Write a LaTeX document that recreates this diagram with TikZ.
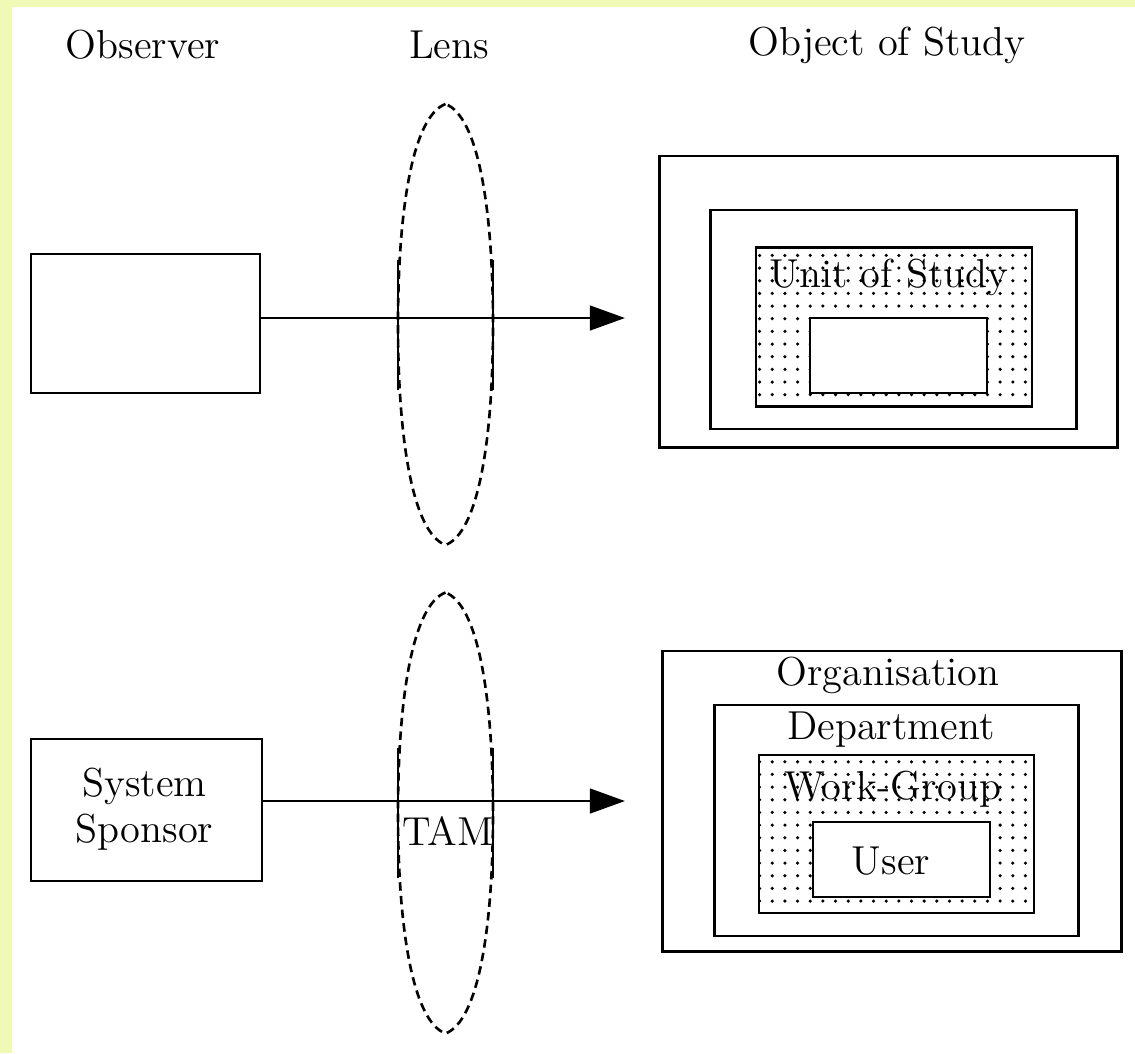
\documentclass[tikz,border=0pt]{standalone}
\usepackage{tikz}
\usetikzlibrary{arrows.meta,patterns.meta,positioning}
\definecolor{paleyellow}{RGB}{240,250,182}

\tikzset{
  box/.style={draw, line width=0.8pt, inner sep=0pt, outer sep=0pt},
  dotbox/.style={box, pattern={Dots[distance=3.6pt,radius=0.5pt]}},
  txt/.style={font=\fontsize{11.5}{13}\selectfont, inner sep=0pt, align=center},
  lensline/.style={line width=0.75pt, dash pattern=on 2.4pt off 1.5pt},
  ray/.style={line width=0.8pt, -{Triangle[length=10pt,width=7pt]}}
}

\begin{document}
\begin{tikzpicture}[x=0.01cm, y=-0.01cm]
  \fill[white] (0,0) rectangle (1135,1053);
  \fill[paleyellow] (0,0) rectangle (12,1053) (0,0) rectangle (1135,7);
  \useasboundingbox (0,0) rectangle (1135,1053);

  % column headings
  \node[txt] (hobs) at (143,45) {Observer};
  \node[txt] (hlens) at (449,45) {Lens};
  \node[txt] (hobj) at (887,45) {Object of Study};

  % lenses
  \foreach \ly in {324.5,813}{
    \begin{scope}[shift={(445.5,\ly)}]
      \draw[lensline]
      (0,-220.5) .. controls (-33,-208) and (-47.5,-115) .. (-47.5,0)
      .. controls (-47.5,115) and (-33,208) .. (0,220.5)
      .. controls (33,208) and (47.5,115) .. (47.5,0)
      .. controls (47.5,-115) and (33,-208) .. cycle;
      \draw[line width=0.75pt]
      (-47.5,-65) -- (-47.5,65)
      (47.5,-65) -- (47.5,65);
    \end{scope}
  }

  % upper row
  \node[box, minimum width=2.29cm, minimum height=1.39cm] (obsA) at (145.5,323.5) {};
  \node[box, minimum width=4.57cm, minimum height=2.91cm] (objA) at (888.5,301.5) {};
  \node[box, minimum width=3.65cm, minimum height=2.19cm] (objB) at (893.5,319.5) {};
  \node[dotbox, minimum width=2.76cm, minimum height=1.59cm] (unit) at (894,327) {};
  \node[box, fill=white, minimum width=1.77cm, minimum height=0.75cm] (unitin) at (898.5,355.5) {};
  \node[txt] (unittxt) at (889,277) {Unit of Study};
  \coordinate (tipA) at (625,318);
  \draw[ray] (obsA.east |- tipA) -- (tipA);

  % lower row
  \node[box, minimum width=2.31cm, minimum height=1.42cm] (spon) at (146.5,810) {};
  \node[txt] (spontxt) at (144.5,809) {System\\Sponsor};
  \node[box, minimum width=4.58cm, minimum height=3.00cm] (org) at (892,801) {};
  \node[box, minimum width=3.63cm, minimum height=2.31cm] (dept) at (896.5,820.5) {};
  \node[dotbox, minimum width=2.75cm, minimum height=1.58cm] (wgrp) at (896.5,834) {};
  \node[box, fill=white, minimum width=1.77cm, minimum height=0.75cm] (user) at (901.5,859.5) {};
  \node[txt] (orgtxt) at (888,675) {Organisation};
  \node[txt] (depttxt) at (891,730) {Department};
  \node[txt] (wgrptxt) at (892.5,789) {Work-Group};
  \node[txt] (usertxt) at (891,861) {User};
  \node[txt] (tam) at (448,831) {TAM};
  \coordinate (tipB) at (625,801);
  \draw[ray] (spon.east |- tipB) -- (tipB);
\end{tikzpicture}
\end{document}
